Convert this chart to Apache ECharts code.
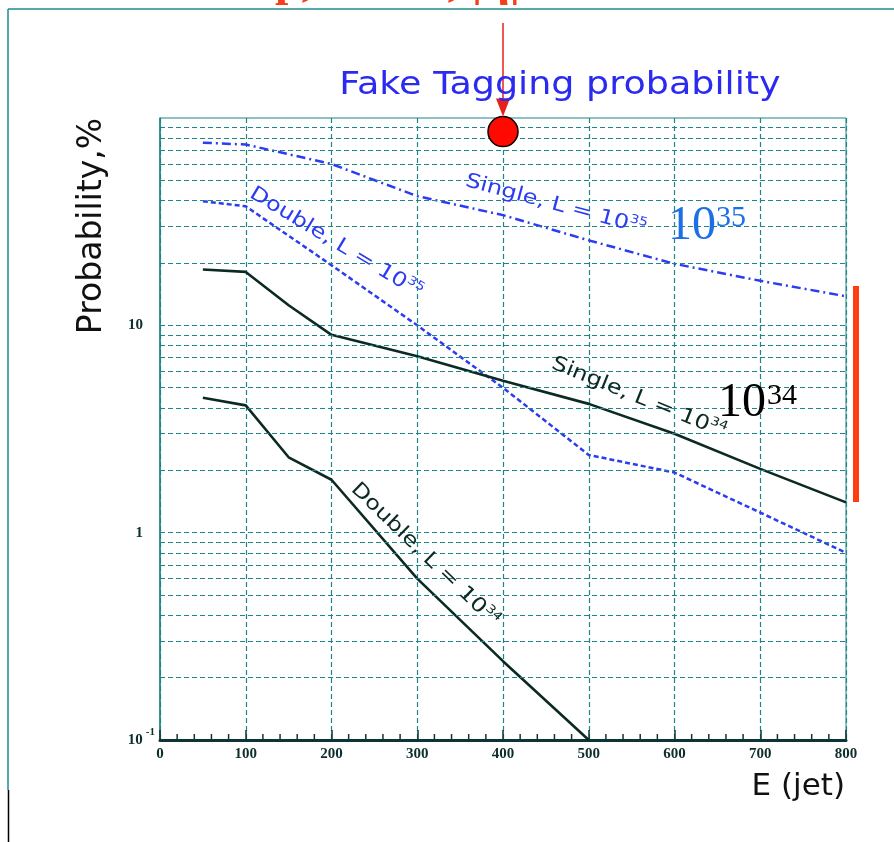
<!DOCTYPE html>
<html>
<head>
<meta charset="utf-8">
<title>Fake Tagging probability</title>
<script src="https://cdn.jsdelivr.net/npm/echarts@6/dist/echarts.min.js"></script>
<style>
  html, body { margin: 0; padding: 0; background: #ffffff; }
  #chart { width: 894px; height: 842px; }
</style>
</head>
<body>
<div id="chart"></div>
<script>
// Jet energy (GeV) and fake tagging probability (%) for each curve
const energySingle35 = [50, 100, 200, 300, 400, 500, 600, 700, 800];
const probSingle35   = [76, 74.5, 60, 42, 34, 25.7, 19.8, 16.4, 13.8];

const energyDouble35 = [50, 100, 200, 300, 400, 500, 600, 700, 800];
const probDouble35   = [39.7, 37.5, 19.5, 10, 5.0, 2.37, 1.95, 1.25, 0.80];

const energySingle34 = [50, 100, 150, 200, 300, 400, 500, 600, 700, 800];
const probSingle34   = [18.6, 18.1, 12.5, 9.0, 7.1, 5.4, 4.18, 3.0, 2.03, 1.40];

const energyDouble34 = [50, 100, 150, 200, 300, 400, 500];
const probDouble34   = [4.47, 4.11, 2.31, 1.80, 0.60, 0.24, 0.10];

// Highlighted working point
const markerEnergy = [400];
const markerProb   = [86];

// Horizontal log grid lines (2..9 within each decade)
const logGridValues = [0.2, 0.3, 0.4, 0.5, 0.6, 0.7, 0.8, 0.9, 1,
                       2, 3, 4, 5, 6, 7, 8, 9, 10,
                       20, 30, 40, 50, 60, 70, 80, 90];

// Small ticks along the energy axis every 20 GeV
const energyMinorTicks = [];
for (let e = 20; e < 800; e += 20) if (e % 100 !== 0) energyMinorTicks.push(e);

const zip = (xs, ys) => xs.map((x, i) => [x, ys[i]]);

const GRID_COLOR = '#1f8585';
const AXIS_DARK = '#0e3535';
const BLUE = '#2b3cf2';
const BLACK = '#0c2a24';

const gridLineStyle = { color: GRID_COLOR, width: 1.2, type: [5, 3] };

const chart = echarts.init(document.getElementById('chart'), null, { renderer: 'canvas' });

const option = {
  backgroundColor: '#ffffff',
  animation: false,
  grid: {
    left: 160, right: 48, top: 118, bottom: 102,
    show: true, borderColor: GRID_COLOR, borderWidth: 1
  },
  xAxis: {
    type: 'value', min: 0, max: 800, interval: 100,
    axisLine: { show: true, lineStyle: { color: AXIS_DARK, width: 3 } },
    axisTick: { show: true, inside: true, length: 10, lineStyle: { color: AXIS_DARK, width: 1.5 } },
    splitLine: { show: true, lineStyle: gridLineStyle },
    axisLabel: {
      margin: 7, color: '#0e2e2e', fontSize: 15, fontWeight: 'bold',
      fontFamily: '"Liberation Serif", serif'
    }
  },
  yAxis: {
    type: 'log', logBase: 10, min: 0.1, max: 100,
    axisLine: { show: true, lineStyle: { color: GRID_COLOR, width: 1.5 } },
    axisTick: { show: false },
    splitLine: { show: false },
    axisLabel: {
      margin: 5,
      formatter: function (v) {
        const p = Math.round(Math.log10(v));
        if (p === -1) return '{n|10}{s|-1}';
        if (p === 0) return '{n|1}{g|}';
        if (p === 1) return '{n|10}{g|}';
        return '';
      },
      rich: {
        n: { fontSize: 15, fontWeight: 'bold', color: '#0e2e2e', fontFamily: '"Liberation Serif", serif' },
        s: { fontSize: 11, fontWeight: 'bold', color: '#0e2e2e', fontFamily: '"Liberation Serif", serif', padding: [0, 0, 16, 3] },
        g: { width: 12 }
      }
    }
  },
  series: [
    {
      name: 'grid',
      type: 'line',
      data: [],
      silent: true,
      z: 1,
      markLine: {
        silent: true,
        symbol: ['none', 'none'],
        label: { show: false },
        lineStyle: gridLineStyle,
        emphasis: { disabled: true },
        data: logGridValues.map(v => ({ yAxis: v }))
      }
    },
    {
      name: 'Single, L = 10^35', type: 'line', z: 3,
      data: zip(energySingle35, probSingle35), symbol: 'none',
      lineStyle: { color: BLUE, width: 2.5, type: [9, 4, 2, 4] }
    },
    {
      name: 'Double, L = 10^35', type: 'line', z: 3,
      data: zip(energyDouble35, probDouble35), symbol: 'none',
      lineStyle: { color: BLUE, width: 2.5, type: [5, 3] }
    },
    {
      name: 'Single, L = 10^34', type: 'line', z: 3,
      data: zip(energySingle34, probSingle34), symbol: 'none',
      lineStyle: { color: BLACK, width: 2.6 }
    },
    {
      name: 'Double, L = 10^34', type: 'line', z: 3,
      data: zip(energyDouble34, probDouble34), symbol: 'none',
      lineStyle: { color: BLACK, width: 2.6 }
    },
    {
      name: 'point', type: 'scatter', z: 5, clip: false,
      data: zip(markerEnergy, markerProb),
      symbol: 'circle', symbolSize: 30,
      itemStyle: { color: '#ff0a00', borderColor: '#000000', borderWidth: 1.5, opacity: 1 }
    }
  ]
};

chart.setOption(option);

// Minor energy ticks, placed through the axis scale
const tickGraphics = energyMinorTicks.map(e => {
  const p = chart.convertToPixel({ xAxisIndex: 0, yAxisIndex: 0 }, [e, 0.1]);
  return {
    type: 'line', z: 8,
    shape: { x1: p[0], y1: p[1], x2: p[0], y2: p[1] - 6 },
    style: { stroke: AXIS_DARK, lineWidth: 1.5 }
  };
});

// Annotation texts and slide decoration
const dot = chart.convertToPixel({ seriesIndex: 5 }, [markerEnergy[0], markerProb[0]]);
const arrowX = dot[0];
const arrowTip = dot[1] - 15;

function curveLabel(main, sup, color, x, y, deg) {
  return {
    type: 'text', x: x, y: y, rotation: -deg * Math.PI / 180, scaleX: 1.2, z: 10,
    style: {
      text: '{a|' + main + '}{s|' + sup + '}',
      align: 'center', verticalAlign: 'middle',
      rich: {
        a: { fontSize: 20, fontFamily: '"DejaVu Sans", sans-serif', fill: color },
        s: { fontSize: 12, fontFamily: '"DejaVu Sans", sans-serif', fill: color, padding: [0, 0, 12, 0] }
      }
    }
  };
}

const graphics = tickGraphics.concat([
  // top slide heading (clipped by the slide edge)
  {
    type: 'text', x: 195, y: 7, z: 1,
    style: {
      text: 'Rcap, R=0.5, |η|<3', fill: '#f4401a',
      font: 'bold 48px "Liberation Serif", serif', align: 'left', verticalAlign: 'bottom'
    }
  },
  { type: 'rect', shape: { x: 0, y: 10, width: 894, height: 11 }, style: { fill: '#ffffff' }, z: 2 },
  // slide frame
  { type: 'line', shape: { x1: 8, y1: 9, x2: 894, y2: 9 }, style: { stroke: '#1e8c8c', lineWidth: 1.5 }, z: 3 },
  { type: 'line', shape: { x1: 8, y1: 9, x2: 8, y2: 790 }, style: { stroke: '#1e8c8c', lineWidth: 1.5 }, z: 3 },
  { type: 'line', shape: { x1: 8.5, y1: 790, x2: 8.5, y2: 842 }, style: { stroke: '#000000', lineWidth: 1.5 }, z: 3 },
  // arrow to the marked point
  { type: 'line', shape: { x1: arrowX, y1: 23, x2: arrowX, y2: arrowTip - 14 }, style: { stroke: '#e8201a', lineWidth: 1.5 }, z: 6 },
  { type: 'polygon', shape: { points: [[arrowX - 7, arrowTip - 18], [arrowX + 7, arrowTip - 18], [arrowX, arrowTip]] }, style: { fill: '#e8201a' }, z: 6 },
  // chart title
  {
    type: 'text', x: 560, y: 86, scaleX: 1.14, z: 10,
    style: {
      text: 'Fake Tagging probability', fill: '#2a2af0',
      font: '32px "DejaVu Sans", sans-serif', align: 'center', verticalAlign: 'middle'
    }
  },
  // axis titles
  {
    type: 'text', x: 92, y: 226, rotation: Math.PI / 2, z: 10,
    style: {
      text: 'Probability,%', fill: '#111111',
      font: '33px "DejaVu Sans", sans-serif', align: 'center', verticalAlign: 'middle'
    }
  },
  {
    type: 'text', x: 845, y: 787, z: 10,
    style: {
      text: 'E (jet)', fill: '#111111',
      font: '31px "DejaVu Sans", sans-serif', align: 'right', verticalAlign: 'middle'
    }
  },
  // curve labels
  curveLabel('Single, L = 10', '35', BLUE, 556, 205, 15),
  curveLabel('Double, L = 10', '35', BLUE, 336, 243, 31),
  curveLabel('Single, L = 10', '34', BLACK, 639, 398, 22),
  curveLabel('Double, L = 10', '34', BLACK, 425, 555, 44),
  // luminosity tags
  { type: 'text', x: 668, y: 226, z: 10, style: { text: '10', fill: '#1c6fe5', font: '48px "Liberation Serif", serif', align: 'left', verticalAlign: 'middle' } },
  { type: 'text', x: 716, y: 218, z: 10, style: { text: '35', fill: '#1c6fe5', font: '30px "Liberation Serif", serif', align: 'left', verticalAlign: 'middle' } },
  { type: 'text', x: 718, y: 403, z: 10, style: { text: '10', fill: '#000000', font: '48px "Liberation Serif", serif', align: 'left', verticalAlign: 'middle' } },
  { type: 'text', x: 767, y: 396, z: 10, style: { text: '34', fill: '#000000', font: '30px "Liberation Serif", serif', align: 'left', verticalAlign: 'middle' } },
  // red range bar
  { type: 'rect', shape: { x: 853, y: 286, width: 6, height: 216 }, style: { fill: '#ff3d0d' }, z: 10 }
]);

chart.setOption({ graphic: graphics });
</script>
</body>
</html>
